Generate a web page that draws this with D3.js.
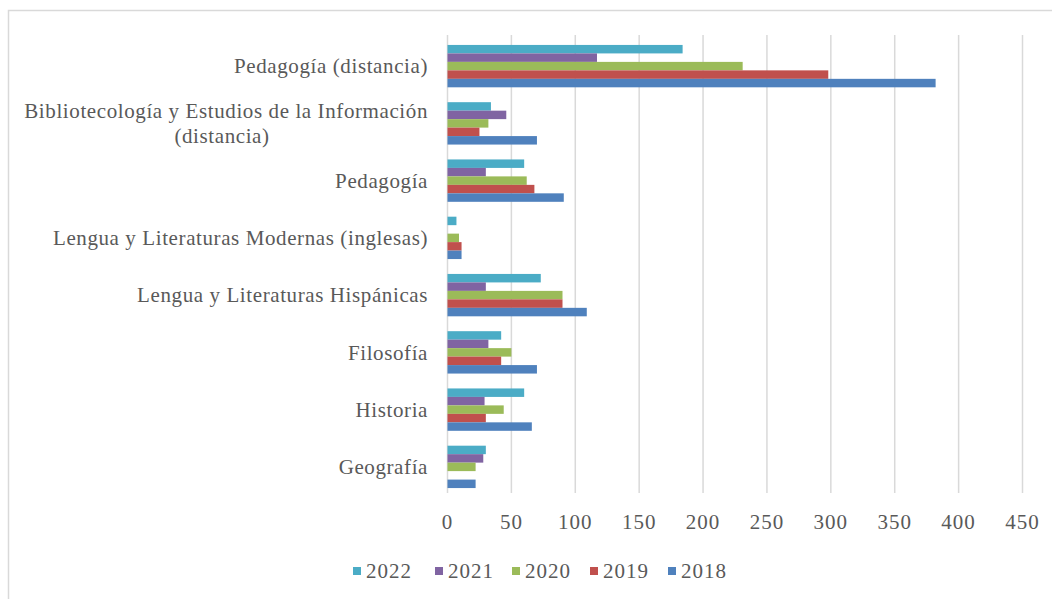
<!DOCTYPE html>
<html><head><meta charset="utf-8">
<script src="https://cdn.jsdelivr.net/npm/d3@7"></script>
<style>body{margin:0;background:#fff;}svg{display:block;}</style>
</head><body>
<svg id="c" width="1052" height="599"></svg>
<script>
const categories = ["Pedagogía (distancia)", "Bibliotecología y Estudios de la Información|(distancia)", "Pedagogía", "Lengua y Literaturas Modernas (inglesas)", "Lengua y Literaturas Hispánicas", "Filosofía", "Historia", "Geografía"];
const seriesNames = ["2022", "2021", "2020", "2019", "2018"];
const v2022 = [184, 34, 60, 7, 73, 42, 60, 30];
const v2021 = [117, 46, 30, 0, 30, 32, 29, 28];
const v2020 = [231, 32, 62, 9, 90, 50, 44, 22];
const v2019 = [298, 25, 68, 11, 90, 42, 30, 0];
const v2018 = [382, 70, 91, 11, 109, 70, 66, 22];
const colors = ["#4BACC6", "#8064A2", "#9BBB59", "#C0504D", "#4F81BD"];
const xTicks = [0, 50, 100, 150, 200, 250, 300, 350, 400, 450];
const values = [v2022, v2021, v2020, v2019, v2018];

const svg = d3.select("#c");
const font = "'Liberation Serif', 'Times New Roman', serif";
const textColor = "#595959";

svg.append("rect").attr("x", 8.5).attr("y", 10.5).attr("width", 1060).attr("height", 600)
  .attr("fill", "#fff").attr("stroke", "#d9d9d9").attr("stroke-width", 1.5);

const x = d3.scaleLinear().domain([0, 450]).range([447.5, 1022.5]);
const y = d3.scaleBand().domain(d3.range(categories.length)).range([37.5, 495.5]).paddingInner(0.26).paddingOuter(0.13);
const ys = d3.scaleBand().domain(seriesNames).range([0, y.bandwidth()]);

// gridlines
svg.append("g").selectAll("line").data(xTicks).join("line")
  .attr("x1", d => x(d)).attr("x2", d => x(d)).attr("y1", 35).attr("y2", 493)
  .attr("stroke", "#d9d9d9").attr("stroke-width", 1.5);

// bars
const groups = svg.append("g").selectAll("g").data(categories).join("g")
  .attr("transform", (d, i) => `translate(0,${y(i)})`);
groups.each(function(c, i) {
  d3.select(this).selectAll("rect").data(seriesNames).join("rect")
    .attr("x", x(0))
    .attr("y", s => ys(s))
    .attr("height", ys.bandwidth())
    .attr("width", (s, k) => x(values[k][i]) - x(0))
    .attr("fill", (s, k) => colors[k])
    .attr("display", (s, k) => values[k][i] > 0 ? null : "none");
});

// category labels
const step = y.step();
svg.append("g").selectAll("text").data(categories).join("text")
  .attr("font-family", font).attr("font-size", 21).attr("fill", textColor)
  .attr("letter-spacing", "0.6px")
  .attr("y", (d, i) => 37.5 + step * (i + 0.5))
  .each(function(d) {
    const lines = d.split("|");
    const t = d3.select(this);
    lines.forEach((ln, j) => {
      const second = lines.length > 1 && j === 1;
      t.append("tspan").attr("x", second ? 222 : 428)
        .attr("text-anchor", second ? "middle" : "end")
        .attr("dy", j === 0 ? (0.35 - (lines.length - 1) * 0.6) + "em" : "1.2em").text(ln);
    });
  });

// x tick labels
svg.append("g").selectAll("text").data(xTicks).join("text")
  .attr("x", d => x(d)).attr("y", 522).attr("dy", "0.35em")
  .attr("text-anchor", "middle").attr("font-family", font).attr("font-size", 21).attr("fill", textColor)
  .attr("letter-spacing", "1px")
  .text(d => d);

// legend
const legX = [353, 435, 512, 590, 668];
const leg = svg.append("g").selectAll("g").data(seriesNames).join("g")
  .attr("transform", (d, i) => `translate(${legX[i]},571)`);
leg.append("rect").attr("x", 0).attr("y", -4).attr("width", 8).attr("height", 8).attr("fill", (d, i) => colors[i]);
leg.append("text").attr("x", 13).attr("dy", "0.35em").attr("font-family", font).attr("font-size", 21)
  .attr("letter-spacing", "1px")
  .attr("fill", textColor).text(d => d);
</script>
</body></html>
